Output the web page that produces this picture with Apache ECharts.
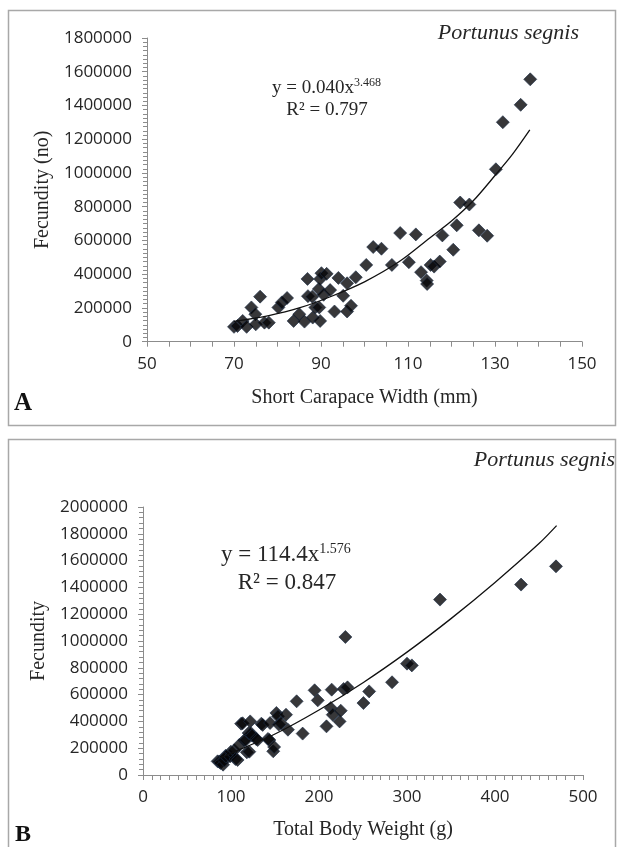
<!DOCTYPE html>
<html><head><meta charset="utf-8">
<script src="https://cdn.jsdelivr.net/npm/echarts@6/dist/echarts.min.js"></script>
<style>html,body{margin:0;padding:0;background:#fff}#c{width:618px;height:847px}</style>
</head><body><div id="c"></div>
<script>
// Panel A: short carapace width (mm) vs fecundity
const widthA = [70,70.8,72,72.9,74,74.9,75,76,77,78,80.2,81,82.2,83.7,85,86.2,86.9,87,88,88.1,88.7,89.5,89.8,89.8,89.6,90.6,90.1,91.3,92.1,93.1,94,95.1,96,96,96.9,98,100.4,102,103.9,106.3,108.2,110.2,111.8,113,114.3,114.4,115.2,116,117.3,117.9,120.4,121.2,122,124.1,126.3,128.2,130.2,131.8,135.9,138.1];
const fecA = [88000,93000,123000,88000,203000,163000,103000,267000,113000,113000,203000,233000,259000,123000,163000,119000,372000,270000,267000,143000,203000,312000,372000,123000,203000,278000,406000,402000,306000,179000,378000,272000,346000,179000,213000,382000,455000,561000,551000,455000,644000,471000,636000,412000,362000,342000,455000,445000,475000,630000,545000,690000,825000,813000,660000,628000,1022000,1301000,1404000,1555000];
// Panel A trend line
const trendAx = [70,78,85,92,100,108,115,120,125,130,134,138];
const trendAy = [120000,155000,200000,265000,355000,475000,615000,715000,835000,985000,1110000,1255000];

// Panel B: total body weight (g) vs fecundity
const weightB = [84.8,86.6,88,91,92.5,93.9,94.2,99,99.9,103.8,105,107.5,109.4,111.5,113.2,115,117,118,120,120.8,121.8,122.7,124,128.6,130.3,134.5,136,142,143.6,144.4,148,149,151.6,153.4,154.3,156.9,162.5,164.7,174.6,181.4,195,198.6,208.5,213.4,214.4,215.6,223.4,224.7,228,230,232.4,250.5,257,283,300,305.5,337.5,429.6,469.3];
const fecB = [102000,99000,90000,77000,109000,144000,137000,139000,174000,184000,119000,112000,224000,383000,386000,259000,261000,169000,313000,174000,400000,312000,294000,269000,261000,383000,374000,269000,261000,388000,177000,209000,463000,438000,376000,386000,450000,338000,550000,309000,632000,557000,363000,500000,637000,450000,400000,480000,642000,1030000,654000,537000,624000,692000,831000,818000,1309000,1421000,1557000];
const trendBx = [88,100,150,200,250,300,350,400,450,470];
const trendBy = [130000,162000,306000,485000,689000,917000,1167000,1437000,1727000,1861000];

const SERIF = '"Liberation Serif","Times New Roman",serif';
const SANS = '"Open Sans",sans-serif';
const TXT = '#262626';
const AX = '#8c8c8c';
const pairs = (xs, ys) => xs.map((x, i) => [x, ys[i]]);

function xAxisCfg(grid, min, max, interval, minorSplit, name, gap) {
  return {
    gridIndex: grid, type: 'value', min: min, max: max, interval: interval,
    axisLine: {show: true, onZero: false, lineStyle: {color: AX, width: 1}},
    axisTick: {show: true, length: 5, lineStyle: {color: AX}},
    minorTick: {show: true, splitNumber: minorSplit, length: 5, lineStyle: {color: AX}},
    splitLine: {show: false}, minorSplitLine: {show: false},
    axisLabel: {margin: 14, fontSize: 17, fontFamily: SANS, color: TXT},
    name: name, nameLocation: 'middle', nameGap: gap,
    nameTextStyle: {fontFamily: SERIF, fontSize: 20, color: TXT}
  };
}
function yAxisCfg(grid, max, minorSplit, name, gap) {
  return {
    gridIndex: grid, type: 'value', min: 0, max: max, interval: 200000,
    axisLine: {show: true, onZero: false, lineStyle: {color: AX, width: 1}},
    axisTick: {show: true, length: 5, lineStyle: {color: AX}},
    minorTick: {show: true, splitNumber: minorSplit, length: 4, lineStyle: {color: AX}},
    splitLine: {show: false}, minorSplitLine: {show: false},
    axisLabel: {margin: 15, fontSize: 17, fontFamily: SANS, color: TXT, formatter: v => String(v)},
    name: name, nameLocation: 'middle', nameGap: gap, nameRotate: 90,
    nameTextStyle: {fontFamily: SERIF, fontSize: 20, color: TXT}
  };
}
const dotStyle = {color: '#050508', borderColor: '#1e3048', borderWidth: 0.8};

const chart = echarts.init(document.getElementById('c'));
chart.setOption({
  animation: false,
  backgroundColor: '#fff',
  grid: [
    {left: 147, right: 36, top: 38, bottom: 505.3},
    {left: 143, right: 35, top: 507, bottom: 72}
  ],
  xAxis: [
    xAxisCfg(0, 50, 150, 20, 4, 'Short Carapace Width (mm)', 46),
    xAxisCfg(1, 0, 500, 100, 10, 'Total Body Weight (g)', 45)
  ],
  yAxis: [
    yAxisCfg(0, 1800000, 8, 'Fecundity (no)', 93),
    yAxisCfg(1, 2000000, 5, 'Fecundity', 88)
  ],
  series: [
    {type: 'scatter', xAxisIndex: 0, yAxisIndex: 0, symbol: 'diamond', symbolSize: 13,
     itemStyle: dotStyle, data: pairs(widthA, fecA), z: 3},
    {type: 'line', xAxisIndex: 0, yAxisIndex: 0, smooth: 0.3, showSymbol: false,
     lineStyle: {color: '#111', width: 1.3}, data: pairs(trendAx, trendAy), z: 4},
    {type: 'scatter', xAxisIndex: 1, yAxisIndex: 1, symbol: 'diamond', symbolSize: 13,
     itemStyle: dotStyle, data: pairs(weightB, fecB), z: 3},
    {type: 'line', xAxisIndex: 1, yAxisIndex: 1, smooth: 0.3, showSymbol: false,
     lineStyle: {color: '#111', width: 1.3}, data: pairs(trendBx, trendBy), z: 4}
  ],
  graphic: [
    {type: 'rect', shape: {x: 8.5, y: 10.5, width: 607, height: 415}, style: {fill: 'none', stroke: '#a8a8a8', lineWidth: 1.5}, silent: true},
    {type: 'rect', shape: {x: 8.5, y: 439.5, width: 607, height: 420}, style: {fill: 'none', stroke: '#a8a8a8', lineWidth: 1.5}, silent: true},
    {type: 'text', x: 579, y: 33, style: {text: 'Portunus segnis', font: 'italic 22px ' + SERIF, fill: TXT, align: 'right', verticalAlign: 'middle'}},
    {type: 'text', x: 615, y: 460, style: {text: 'Portunus segnis', font: 'italic 22px ' + SERIF, fill: TXT, align: 'right', verticalAlign: 'middle'}},
    {type: 'text', x: 272, y: 88, style: {text: '{m|y = 0.040x}{s|3.468}', align: 'left', verticalAlign: 'middle',
      rich: {m: {fontFamily: SERIF, fontSize: 19, fill: TXT, lineHeight: 22}, s: {fontFamily: SERIF, fontSize: 12, fill: TXT, lineHeight: 12, verticalAlign: 'top'}}}},
    {type: 'text', x: 327, y: 110, style: {text: 'R² = 0.797', font: '19px ' + SERIF, fill: TXT, align: 'center', verticalAlign: 'middle'}},
    {type: 'text', x: 221, y: 555, style: {text: '{m|y = 114.4x}{s|1.576}', align: 'left', verticalAlign: 'middle',
      rich: {m: {fontFamily: SERIF, fontSize: 23, fill: TXT, lineHeight: 26}, s: {fontFamily: SERIF, fontSize: 14, fill: TXT, lineHeight: 14, verticalAlign: 'top'}}}},
    {type: 'text', x: 287, y: 583, style: {text: 'R² = 0.847', font: '23px ' + SERIF, fill: TXT, align: 'center', verticalAlign: 'middle'}},
    {type: 'text', x: 14, y: 404, style: {text: 'A', font: 'bold 25px ' + SERIF, fill: '#111', align: 'left', verticalAlign: 'middle'}},
    {type: 'text', x: 15, y: 835, style: {text: 'B', font: 'bold 24px ' + SERIF, fill: '#111', align: 'left', verticalAlign: 'middle'}}
  ]
});
</script></body></html>
